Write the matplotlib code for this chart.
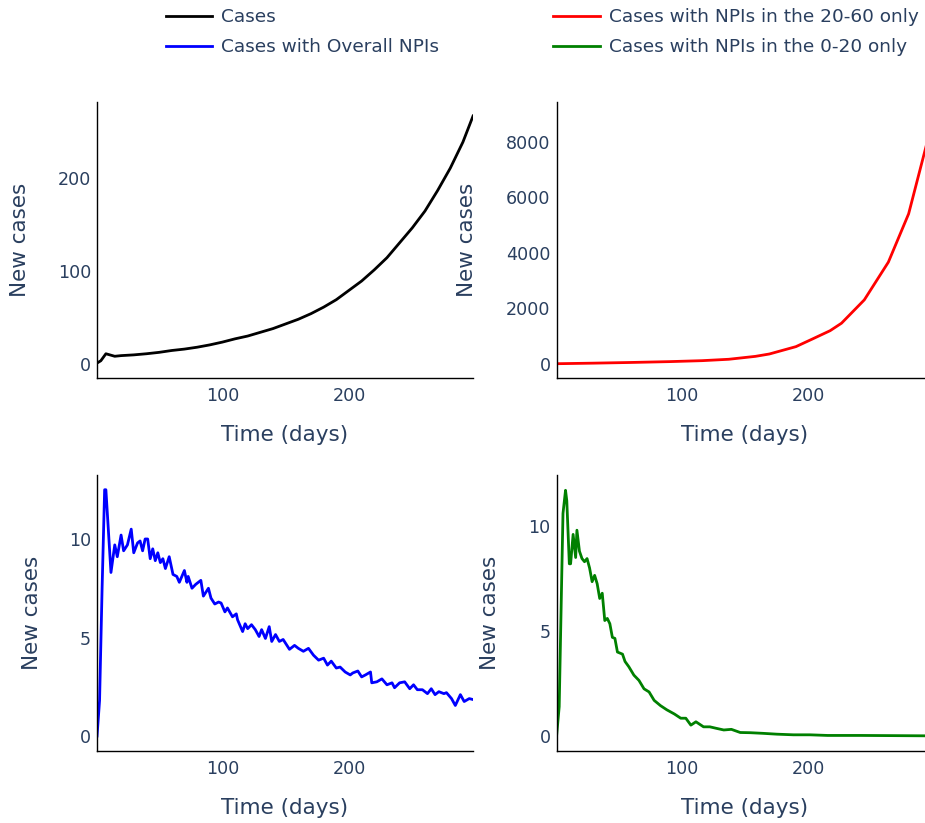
# New cases over time: baseline vs. different NPI scenarios (2x2 panels)

import matplotlib
matplotlib.use("Agg")
import matplotlib.pyplot as plt

font_color = "#2a3f5f"
plt.rcParams['font.family'] = ['DejaVu Sans']

# baseline cases
cases_days = [1, 4, 8, 15, 20, 30, 40, 50, 60, 70, 80, 90, 100, 110, 120, 130,
              140, 150, 160, 170, 180, 190, 200, 210, 220, 230, 240, 250, 260,
              270, 280, 290, 298]
cases = [1, 3.5, 11, 8.3, 9, 9.8, 11, 12.5, 14.5, 16, 18, 20.5, 23.5, 27, 30,
         34, 38, 43, 48, 54, 61, 69, 79, 89, 101, 114, 130, 146, 164, 186, 210,
         238, 266]

# NPIs in the 20-60 age group only
npi_2060_days = [1, 30, 60, 90, 116, 137, 158, 169, 190, 203, 217, 226, 244,
                 263, 279, 293, 298]
npi_2060 = [10, 30, 55, 85, 120, 170, 275, 360, 625, 900, 1200, 1470, 2310,
            3670, 5410, 7880, 8990]

# overall NPIs
overall_days = [1, 3, 5, 7, 8, 12, 15, 17, 20, 22, 25, 28, 30, 33, 35, 37, 39,
                41, 43, 45, 47, 49, 51, 53, 55, 58, 61, 64, 66, 70, 72, 73, 76,
                79, 83, 85, 89, 91, 94, 97, 99, 102, 104, 108, 111, 112, 116,
                118, 120, 123, 126, 129, 131, 134, 137, 139, 142, 145, 148, 151,
                153, 157, 160, 164, 168, 172, 176, 180, 183, 186, 190, 193, 197,
                201, 203, 207, 210, 213, 217, 218, 222, 226, 230, 234, 236, 240,
                244, 248, 251, 254, 258, 262, 265, 268, 271, 275, 277, 281, 284,
                288, 291, 295, 298]
overall = [0.0, 1.8, 7.5, 12.5, 12.5, 8.3, 9.7, 9.1, 10.2, 9.4, 9.7, 10.5, 9.3,
           9.8, 9.9, 9.4, 10.0, 10.0, 9.0, 9.5, 8.9, 9.3, 8.8, 9.0, 8.5, 9.1,
           8.2, 8.1, 7.8, 8.4, 7.8, 8.1, 7.5, 7.7, 7.9, 7.1, 7.5, 7.0, 6.7, 6.8,
           6.75, 6.3, 6.5, 6.05, 6.2, 5.9, 5.3, 5.7, 5.45, 5.65, 5.4, 5.05, 5.4,
           4.95, 5.55, 4.8, 5.15, 4.8, 4.9, 4.6, 4.4, 4.6, 4.45, 4.3, 4.45, 4.1,
           3.85, 3.95, 3.6, 3.8, 3.45, 3.5, 3.25, 3.1, 3.2, 3.3, 3.0, 3.1, 3.25,
           2.7, 2.75, 2.9, 2.6, 2.7, 2.45, 2.7, 2.75, 2.4, 2.6, 2.35, 2.35, 2.15,
           2.4, 2.1, 2.25, 2.15, 2.2, 1.9, 1.55, 2.1, 1.75, 1.9, 1.85]

# NPIs in the 0-20 age group only
npi_020_days = [1, 3, 5, 6, 8, 9, 11, 12, 14, 16, 17, 19, 21, 23, 25, 27, 29,
                31, 33, 35, 37, 39, 41, 43, 45, 47, 49, 53, 55, 58, 62, 66, 70,
                74, 78, 83, 88, 94, 99, 103, 107, 111, 117, 122, 127, 133, 139,
                146, 154, 164, 175, 188, 201, 215, 241, 270, 298]
npi_020 = [0.05, 1.4, 7.6, 10.6, 11.7, 11.2, 8.2, 8.2, 9.6, 8.5, 9.8, 8.8, 8.45,
           8.3, 8.45, 8.0, 7.35, 7.65, 7.25, 6.55, 6.8, 5.5, 5.6, 5.35, 4.7,
           4.65, 4.0, 3.9, 3.55, 3.3, 2.9, 2.65, 2.25, 2.1, 1.7, 1.45, 1.25,
           1.05, 0.85, 0.85, 0.52, 0.68, 0.44, 0.44, 0.37, 0.29, 0.32, 0.17,
           0.16, 0.13, 0.09, 0.06, 0.06, 0.03, 0.03, 0.02, 0.01]

panels = [
    # (x, y, color, label, [left, bottom], ylim, yticks, ylabel x)
    (cases_days, cases, "black", "Cases", [0.1049, 0.5407],
     (-15, 281), [0, 100, 200], -0.205),
    (npi_2060_days, npi_2060, "red", "Cases with NPIs in the 20-60 only",
     [0.6018, 0.5407], (-505, 9440), [0, 2000, 4000, 6000, 8000], -0.2386),
    (overall_days, overall, "blue", "Cases with Overall NPIs", [0.1049, 0.0875],
     (-0.76, 13.25), [0, 5, 10], -0.1737),
    (npi_020_days, npi_020, "green", "Cases with NPIs in the 0-20 only",
     [0.6018, 0.0875], (-0.71, 12.43), [0, 5, 10], -0.176),
]

fig = plt.figure(figsize=(9.25, 8.23), dpi=100)
lines = {}
for x, y, color, label, pos, ylim, yticks, ylab_x in panels:
    ax = fig.add_axes([pos[0], pos[1], 0.4065, 0.3354])
    ln, = ax.plot(x, y, color=color, lw=2.0, label=label)
    lines[label] = ln
    ax.set_xlim(1, 298)
    ax.set_ylim(*ylim)
    ax.set_xticks([100, 200])
    ax.set_yticks(yticks)
    for side in ["top", "right"]:
        ax.spines[side].set_visible(False)
    for side in ["left", "bottom"]:
        ax.spines[side].set_linewidth(1.0)
        ax.spines[side].set_color("black")
    ax.tick_params(axis="both", length=0, labelsize=12.6, labelcolor=font_color)
    ax.tick_params(axis="x", pad=6.5)
    ax.tick_params(axis="y", pad=4.3)
    ax.set_xlabel("Time (days)", fontsize=15.5, color=font_color, va="center")
    ax.set_ylabel("New cases", fontsize=15.5, color=font_color, va="center")
    ax.xaxis.set_label_coords(0.5, -0.208)
    ax.yaxis.set_label_coords(ylab_x, 0.5)

order = ["Cases", "Cases with Overall NPIs",
         "Cases with NPIs in the 20-60 only", "Cases with NPIs in the 0-20 only"]
leg = fig.legend([lines[k] for k in order], order, ncol=2, loc="upper left",
                 bbox_to_anchor=(166 / 925, 1 - 8 / 823), frameon=False,
                 fontsize=13.3, handlelength=2.5, handletextpad=0.5,
                 columnspacing=6.17, labelspacing=0.67, borderpad=0,
                 borderaxespad=0)
for t in leg.get_texts():
    t.set_color(font_color)

plt.savefig("out.png", dpi=100)
